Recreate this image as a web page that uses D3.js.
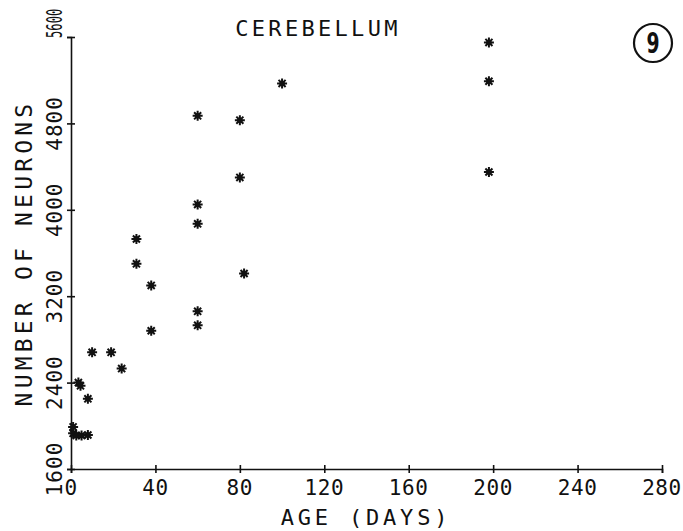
<!DOCTYPE html>
<html>
<head>
<meta charset="utf-8">
<script src="https://cdn.jsdelivr.net/npm/d3@7"></script>
<style>
  body { margin: 0; background: #fff; }
  text { font-family: "DejaVu Sans Mono", "Liberation Mono", monospace; fill: #111; }
</style>
</head>
<body>
<script>
// Data: age in days, number of neurons
var ages = [1, 1, 2.5, 5, 8, 3.5, 4.5, 8, 10, 19, 24, 31, 31, 38, 38,
            60, 60, 60, 60, 60, 80, 80, 82, 100, 198, 198, 198];
var neurons = [1990, 1930, 1910, 1910, 1915, 2400, 2370, 2250, 2680, 2680, 2530, 3730, 3500, 3300, 2880,
               4870, 4050, 3870, 3060, 2930, 4830, 4300, 3410, 5170, 5550, 5190, 4350];

var xTicks = [0, 40, 80, 120, 160, 200, 240, 280];
var yTicks = [1600, 2400, 3200, 4000, 4800, 5600];

var title = "CEREBELLUM",
    xTitle = "AGE (DAYS)",
    yTitle = "NUMBER OF NEURONS",
    panel = "9";

var width = 683,
    height = 531;

var x = d3.scaleLinear().domain([0, 280]).range([71, 662]);
var y = d3.scaleLinear().domain([1600, 5600]).range([469, 37]);

var svg = d3.select("body").append("svg")
    .attr("width", width)
    .attr("height", height);

// x axis: ticks cross the line
var xAxis = svg.append("g")
    .attr("transform", "translate(0," + y(1600) + ")")
    .call(d3.axisBottom(x).tickValues(xTicks).tickSize(4).tickFormat(""));
xAxis.select(".domain").attr("stroke", "#111").attr("stroke-width", 1.6);
xAxis.selectAll(".tick line").attr("y1", -4).attr("y2", 4)
    .attr("stroke", "#111").attr("stroke-width", 1.6);

// y axis
var yAxis = svg.append("g")
    .attr("transform", "translate(" + x(0) + ",0)")
    .call(d3.axisLeft(y).tickValues(yTicks).tickSize(4).tickFormat(""));
yAxis.select(".domain").attr("stroke", "#111").attr("stroke-width", 1.6);
yAxis.selectAll(".tick line").attr("x1", -4).attr("x2", 4)
    .attr("stroke", "#111").attr("stroke-width", 1.6);

// tick labels, plotter style
svg.append("g").selectAll("text")
    .data(xTicks)
    .enter().append("text")
        .attr("x", function(d) { return x(d); })
        .attr("y", 495)
        .attr("text-anchor", "middle")
        .style("font-size", "21px")
        .style("letter-spacing", "0.6px")
        .text(function(d) { return d; });

var topTick = yTicks[yTicks.length - 1];
svg.append("g").selectAll("text")
    .data(yTicks)
    .enter().append("text")
        .attr("transform", function(d) {
            // top label is squeezed and sits below its tick so it stays on the page
            if (d === topTick) return "translate(62," + (y(d) + 1) + ") rotate(-90) scale(0.58,1)";
            return "translate(62," + y(d) + ") rotate(-90)";
        })
        .attr("text-anchor", function(d) { return d === topTick ? "start" : "middle"; })
        .style("font-size", "21px")
        .style("letter-spacing", function(d) { return d === topTick ? "0px" : "1px"; })
        .text(function(d) { return d; });

// titles
svg.append("text")
    .attr("x", 318).attr("y", 36)
    .attr("text-anchor", "middle")
    .style("font-size", "22px")
    .style("letter-spacing", "3.3px")
    .text(title);

svg.append("text")
    .attr("x", 366).attr("y", 525)
    .attr("text-anchor", "middle")
    .style("font-size", "22px")
    .style("letter-spacing", "3.8px")
    .text(xTitle);

svg.append("text")
    .attr("transform", "translate(32,253) rotate(-90)")
    .attr("text-anchor", "middle")
    .style("font-size", "23px")
    .style("letter-spacing", "4.2px")
    .text(yTitle);

// panel number in a circle
svg.append("circle")
    .attr("cx", 653).attr("cy", 43).attr("r", 19)
    .attr("fill", "none").attr("stroke", "#111").attr("stroke-width", 2.2);
svg.append("text")
    .attr("transform", "translate(653,53) scale(0.72,1)")
    .attr("text-anchor", "middle")
    .style("font-family", "'DejaVu Sans Condensed', 'DejaVu Sans', sans-serif")
    .style("font-weight", "bold")
    .style("font-size", "29px")
    .text(panel);

// eight-ray asterisk marker
function star(r) {
    var d = r * Math.SQRT1_2;
    return "M" + (-r) + ",0L" + r + ",0M0," + (-r) + "L0," + r +
           "M" + (-d) + "," + (-d) + "L" + d + "," + d +
           "M" + (-d) + "," + d + "L" + d + "," + (-d);
}

var points = ages.map(function(a, i) { return [a, neurons[i]]; });

svg.append("g").selectAll("path")
    .data(points)
    .enter().append("path")
        .attr("transform", function(d) { return "translate(" + x(d[0]) + "," + y(d[1]) + ")"; })
        .attr("d", star(5))
        .attr("stroke", "#111")
        .attr("stroke-width", 2);

svg.append("g").selectAll("circle")
    .data(points)
    .enter().append("circle")
        .attr("cx", function(d) { return x(d[0]); })
        .attr("cy", function(d) { return y(d[1]); })
        .attr("r", 2.6)
        .attr("fill", "#111");
</script>
</body>
</html>
